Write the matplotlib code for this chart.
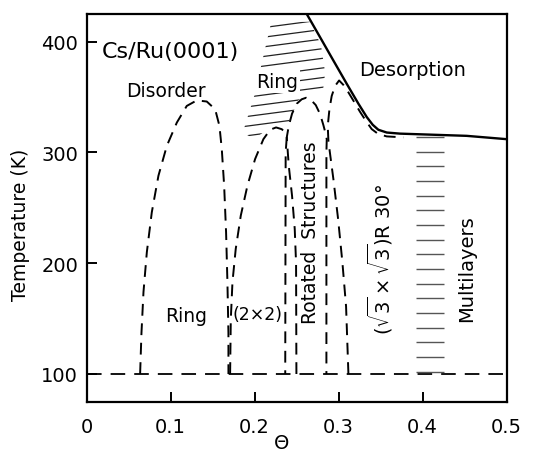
import numpy as np
import matplotlib
matplotlib.use("Agg")
import matplotlib.pyplot as plt
from matplotlib.collections import LineCollection
from matplotlib.patches import Polygon

# phase boundaries (theta, T in K)
ring_dome_theta = [0.0638, 0.0654, 0.0678, 0.0718, 0.0777, 0.0856, 0.0956, 0.1075, 0.1193,
                   0.1312, 0.1431, 0.1531, 0.1582, 0.1610, 0.1638, 0.1661, 0.1677, 0.1689, 0.1689]
ring_dome_T = [100, 137, 174, 210, 246, 279, 306, 327, 342, 347, 346, 339, 324, 303, 270, 228, 183, 137, 100]

p2x2_theta = [0.1709, 0.1717, 0.1737, 0.1776, 0.1836, 0.1915, 0.2006, 0.2105, 0.2185,
              0.2256, 0.2324, 0.2363, 0.2383, 0.2370, 0.2365]
p2x2_T = [100, 149, 183, 213, 243, 270, 294, 312, 320.5, 322.6, 321, 318, 313.5, 300, 100]

rot_theta = [0.2498, 0.2494, 0.2478, 0.2446, 0.2407, 0.2383, 0.2407, 0.2446, 0.2502, 0.2561,
             0.2613, 0.2669, 0.2728, 0.2780, 0.2819, 0.2847, 0.2859, 0.2855, 0.2855]
rot_T = [100, 200, 231, 261, 288, 313.5, 324, 335, 344, 348, 349.4, 347.6, 342.8, 334.6,
         324.7, 316.6, 312, 300, 100]

sqrt3_theta = [0.3117, 0.3089, 0.3045, 0.2994, 0.2938, 0.2879, 0.2871, 0.2891, 0.2918, 0.2958,
               0.3006, 0.3057, 0.3117, 0.3184, 0.3255, 0.3327, 0.3394, 0.3473, 0.3573, 0.3771]
sqrt3_T = [100, 161, 201, 240, 276, 310, 324, 339, 351, 360, 365, 361, 354.2, 345.8, 336.7,
           328.3, 321.1, 316.6, 314.5, 313.6]

base_theta = [0.0, 0.5]
base_T = [100, 100]

desorb_theta = [0.2621, 0.2780, 0.2938, 0.3097, 0.3236, 0.3335, 0.3406, 0.3473, 0.3573,
                0.3731, 0.4128, 0.4524, 0.5]
desorb_T = [425, 404, 383, 362, 344, 332, 325, 320.5, 318, 317, 316, 315, 312]

# hatched "Ring" area above the domes
ringhatch_theta = [0.186, 0.200, 0.212, 0.220, 0.266, 0.279, 0.284, 0.281, 0.263, 0.252,
                   0.244, 0.239, 0.232, 0.222, 0.210, 0.200]
ringhatch_T = [318, 352, 392, 418, 418, 397, 372, 353, 353, 347, 333, 320, 326, 326, 318, 312]

# multilayer band
ml_theta = [0.392, 0.425]
ml_T = [102, 314]

plt.rcParams["font.family"] = ["DejaVu Sans"]
plt.rcParams["lines.scale_dashes"] = False

fig = plt.figure(figsize=(5.35, 4.52), dpi=100)
ax = fig.add_axes([0.1617, 0.1091, 0.7853, 0.8577])

dash = (8.5, 5.5)
for th, tt in [(ring_dome_theta, ring_dome_T), (p2x2_theta, p2x2_T),
               (rot_theta, rot_T), (sqrt3_theta, sqrt3_T)]:
    ax.plot(th, tt, color="k", lw=1.4, dashes=dash)
ax.plot(base_theta, base_T, color="k", lw=1.3, dashes=(10.5, 6.5))
ax.plot(desorb_theta, desorb_T, color="k", lw=1.7, solid_capstyle="butt")

# slanted hatch in the ring region
poly = Polygon(np.column_stack([ringhatch_theta, ringhatch_T]), closed=True,
               fill=False, edgecolor="none")
ax.add_patch(poly)
slope = 100.0
levels = np.arange(316, 420, 8.7)
segs = [[(0.17, c + slope * (0.17 - 0.2)), (0.30, c + slope * (0.30 - 0.2))] for c in levels]
lc = LineCollection(segs, colors="#222222", linewidths=0.9)
ax.add_collection(lc)
lc.set_clip_path(poly)

ax.hlines(np.linspace(ml_T[0], ml_T[1], 17), ml_theta[0], ml_theta[1],
          colors="#555555", linewidths=1.0)

ax.text(0.018, 392, "Cs/Ru(0001)", fontsize=16, ha="left", va="center")
ax.text(0.0945, 356, "Disorder", fontsize=13.5, ha="center", va="center")
ax.text(0.388, 375, "Desorption", fontsize=14, ha="center", va="center")
ax.text(0.118, 153, "Ring", fontsize=13.5, ha="center", va="center")
ax.text(0.203, 154, "(2×2)", fontsize=12.5, ha="center", va="center")
ax.text(0.2265, 364, "Ring", fontsize=13.5, ha="center", va="center",
        bbox=dict(fc="white", ec="none", pad=1.5))
ax.text(0.2662, 146, "Rotated  Structures", fontsize=13.5, rotation=90, ha="center", va="bottom")
ax.text(0.3503, 136, r"$(\sqrt{3}\times\sqrt{3})$R 30°", fontsize=14, rotation=90,
        ha="center", va="bottom")
ax.text(0.4526, 148, "Multilayers", fontsize=14, rotation=90, ha="center", va="bottom")

ax.set_xlim(0, 0.5)
ax.set_ylim(75, 425)
ax.set_xticks([0, 0.1, 0.2, 0.3, 0.4, 0.5])
ax.set_xticklabels(["0", "0.1", "0.2", "0.3", "0.4", "0.5"])
ax.set_yticks([100, 200, 300, 400])
ax.tick_params(direction="in", length=7, width=1.4, labelsize=14, pad=6)
ax.tick_params(axis="x", pad=11)
for s in ax.spines.values():
    s.set_linewidth(1.6)

ax.set_xlabel("Θ", fontsize=14)
ax.xaxis.set_label_coords(0.465, -0.082)
ax.set_ylabel("Temperature (K)", fontsize=13.5)
ax.yaxis.set_label_coords(-0.135, 0.458)

fig.savefig("out.png", dpi=100)
